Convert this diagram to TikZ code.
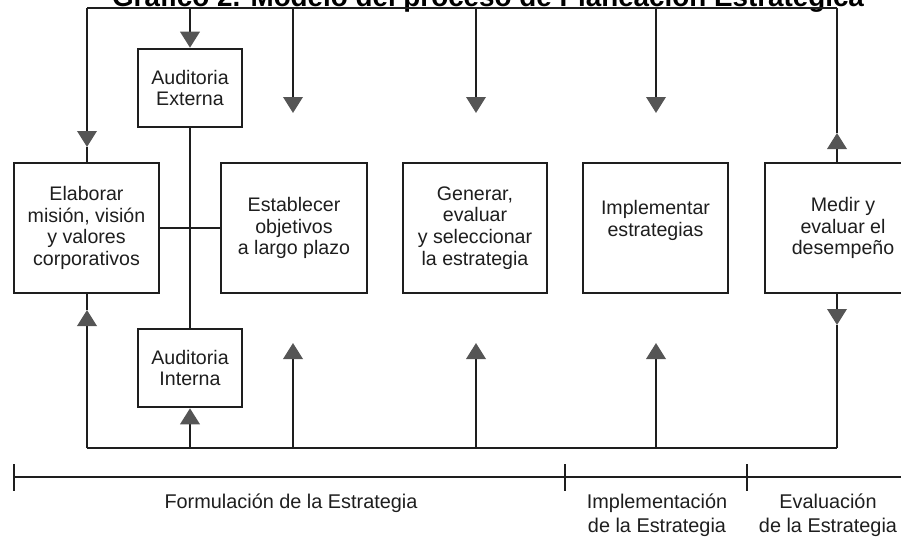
\documentclass[tikz,border=0pt]{standalone}
\usepackage{fontspec}
\setmainfont{Liberation Sans}
\usetikzlibrary{arrows.meta}
\definecolor{linec}{HTML}{1E1E1E}
\definecolor{arrowc}{HTML}{555555}
\definecolor{textc}{HTML}{1E1E1E}
\begin{document}
\begin{tikzpicture}[x=0.75pt,y=-0.75pt,
  ln/.style={draw=linec,line width=1.9pt},
  arr/.style={ln,-{Triangle[width=14.5pt,length=12pt,color=arrowc]}},
  box/.style={ln,fill=white,inner sep=0pt,align=center,text=textc,
    font=\fontsize{14.7pt}{16.3pt}\selectfont,minimum height=97.5pt},
  lab/.style={align=center,text=textc,font=\fontsize{14.9pt}{18pt}\selectfont,inner sep=0pt}]
\useasboundingbox (0,0) rectangle (901,539);
\clip (0,0) rectangle (901,539);

% title (cut by the top edge)
\node[anchor=base,inner sep=0pt,font=\bfseries\fontsize{20.85pt}{24pt}\selectfont] (title) at (488,7)
  {Gráfico 2. Modelo del proceso de Planeación Estratégica};

% boxes
\node[box,minimum width=108.75pt] (elab) at (86.5,228) {Elaborar\\misión, visión\\y valores\\corporativos};
\node[box,minimum width=109.5pt] (estab) at (294,228) {Establecer\\objetivos\\a largo plazo};
\node[box,minimum width=108pt] (gen) at (475,228) {Generar,\\evaluar\\y seleccionar\\la estrategia};
\node[box,minimum width=108.75pt] (impl) at (655.5,228) {Implementar\\estrategias\\[-2pt]\mbox{}};
\node[box,minimum width=117pt] (medir) at (843,228) {Medir y\\evaluar el\\desempeño};
\node[box,minimum width=78pt,minimum height=58.5pt] (audext) at (190,88) {Auditoria\\Externa};
\node[box,minimum width=78pt,minimum height=58.5pt] (audint) at (190,368) {Auditoria\\Interna};

% top bus
\coordinate (t1) at (87,8);
\coordinate (t2) at (190,8);
\coordinate (t3) at (293,8);
\coordinate (t4) at (476,8);
\coordinate (t5) at (656,8);
\coordinate (t6) at (837,8);
\draw[ln] (t1) -- (t6);
\coordinate (a1) at (87,147);
\draw[arr] (t1) -- (a1);
\draw[ln] (a1) -- (elab.north -| a1);
\draw[arr] (t2) -- (audext.north);
\coordinate (a3) at (293,113);
\coordinate (a4) at (476,113);
\coordinate (a5) at (656,113);
\draw[arr] (t3) -- (a3);
\draw[arr] (t4) -- (a4);
\draw[arr] (t5) -- (a5);
\coordinate (m1) at (medir.north -| t6);
\coordinate (a6) at (837,133);
\draw[arr] (m1) -- (a6);
\draw[ln] (a6) -- (t6);

% bottom bus
\coordinate (b1) at (87,448);
\coordinate (b2) at (190,448);
\coordinate (b3) at (293,448);
\coordinate (b4) at (476,448);
\coordinate (b5) at (656,448);
\coordinate (b6) at (837,448);
\draw[ln] (b1) -- (b6);
\coordinate (e1) at (87,310);
\draw[arr] (b1) -- (e1);
\draw[ln] (e1) -- (elab.south -| e1);
\draw[arr] (b2) -- (audint.south);
\coordinate (u3) at (293,343);
\coordinate (u4) at (476,343);
\coordinate (u5) at (656,343);
\draw[arr] (b3) -- (u3);
\draw[arr] (b4) -- (u4);
\draw[arr] (b5) -- (u5);
\coordinate (m2) at (medir.south -| b6);
\coordinate (d6) at (837,325);
\draw[arr] (m2) -- (d6);
\draw[ln] (d6) -- (b6);

% audits and link
\draw[ln] (audext.south) -- (audint.north);
\draw[ln] (elab.east) -- (estab.west);

% timeline
\coordinate (tl0) at (14,477);
\coordinate (tl1) at (920,477);
\draw[ln] (tl0) -- (tl1);
\draw[ln] (14,464) -- (14,491);
\draw[ln] (565,464) -- (565,491);
\draw[ln] (747,464) -- (747,491);

\node[lab] (formu) at (291,503) {Formulación de la Estrategia};
\node[lab] (implab) at (657,515) {Implementación\\de la Estrategia};
\node[lab] (evallab) at (828,515) {Evaluación\\de la Estrategia};
\end{tikzpicture}
\end{document}
